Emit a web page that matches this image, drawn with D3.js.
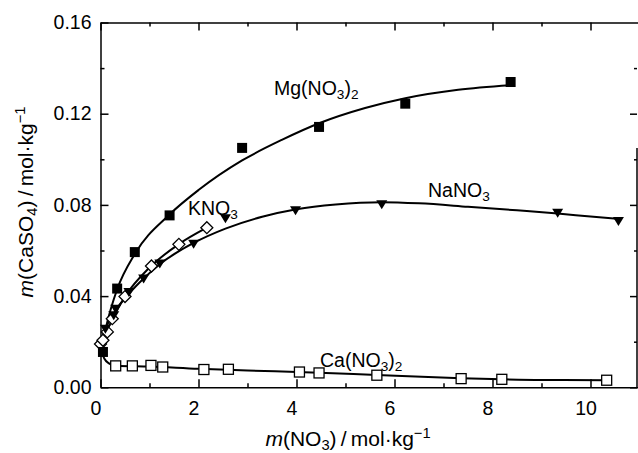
<!DOCTYPE html>
<html><head><meta charset="utf-8">
<script src="https://cdn.jsdelivr.net/npm/d3@7"></script>
<style>body{margin:0;background:#fff}svg{display:block;font-family:"Liberation Sans",Arial,sans-serif}</style>
</head><body><svg id="c" width="638" height="453"></svg>
<script>
// ---- data ----
const xMajor = [0, 2, 4, 6, 8, 10];
const xMinor = [1, 3, 5, 7, 9];
const yMajor = [0, 0.04, 0.08, 0.12, 0.16];
const yMinor = [0.02, 0.06, 0.10, 0.14];

const mgPts = [[0.05,0.0155],[0.34,0.0433],[0.70,0.0593],[1.41,0.0754],[2.89,0.105],[4.46,0.1142],[6.22,0.1244],[8.37,0.1339]];
const mgFit = [[0.03,0.018],[0.12,0.027],[0.34,0.043],[0.7,0.0585],[1.41,0.0758],[2.0,0.0865],[2.89,0.0995],[3.7,0.1085],[4.46,0.1158],[5.4,0.1225],[6.22,0.1268],[7.3,0.1305],[8.37,0.1325]];

const naPts = [[0.10,0.0257],[0.27,0.0316],[0.31,0.0345],[0.58,0.0418],[0.88,0.0477],[1.21,0.0543],[1.90,0.063],[2.55,0.0741],[3.98,0.0776],[5.74,0.0803],[9.33,0.0766],[10.57,0.0729]];
const naFit = [[0.03,0.021],[0.10,0.0255],[0.3,0.0335],[0.58,0.041],[0.88,0.0477],[1.21,0.054],[1.9,0.0633],[2.55,0.0696],[3.3,0.0748],[4.0,0.0781],[4.8,0.0802],[5.74,0.0812],[6.5,0.0807],[7.5,0.0792],[8.5,0.0776],[9.33,0.0762],[10.0,0.0749],[10.6,0.0738]];

const kPts = [[0.0,0.019],[0.05,0.0206],[0.14,0.0243],[0.24,0.0301],[0.50,0.0398],[1.04,0.0532],[1.60,0.0627],[2.17,0.0700]];
const kFit = [[0.0,0.019],[0.1,0.0235],[0.25,0.0302],[0.5,0.0398],[1.0,0.0525],[1.6,0.0628],[2.17,0.0700]];

const caPts = [[0.31,0.0094],[0.65,0.0094],[1.03,0.0096],[1.27,0.0089],[2.11,0.0078],[2.61,0.0079],[4.06,0.0067],[4.46,0.0063],[5.64,0.0053],[7.36,0.0038],[8.19,0.0035],[10.33,0.0031]];
const caFit = [[0.03,0.0155],[0.08,0.0125],[0.18,0.0104],[0.31,0.0095],[1.0,0.0091],[2.0,0.0081],[3.0,0.0074],[4.46,0.0064],[5.64,0.0054],[7.36,0.004],[8.19,0.0035],[9.0,0.0032],[10.33,0.0031]];

// ---- chart ----
const svg = d3.select("#c");
const x = d3.scaleLinear().domain([0, 11]).range([100.5, 639.5]);
const y = d3.scaleLinear().domain([0, 0.16]).range([387.3, 22.5]);
const fs = 19.5;
const ft = 21;
const fmtY = d3.format(".2f");

function axisStyle(g){
  g.selectAll("path.domain").attr("stroke","#000").attr("stroke-width",1.5);
  g.selectAll(".tick line").attr("stroke","#000").attr("stroke-width",1.5);
  g.selectAll("text").attr("font-size",fs).attr("fill","#000").attr("font-family","'Liberation Sans',Arial,sans-serif");
}
// bottom
const gb = svg.append("g").attr("transform",`translate(0,${y(0)})`)
  .call(d3.axisBottom(x).tickValues(xMajor).tickSizeInner(-8).tickSizeOuter(0).tickPadding(14).tickFormat(d3.format("d")));
axisStyle(gb); gb.selectAll("text").attr("dx",-5);
svg.append("g").attr("transform",`translate(0,${y(0)})`)
  .call(d3.axisBottom(x).tickValues(xMinor).tickSizeInner(-4).tickSizeOuter(0).tickFormat(""))
  .call(g=>{axisStyle(g); g.select("path.domain").remove();});
// top
svg.append("g").attr("transform",`translate(0,${y(0.16)})`)
  .call(d3.axisTop(x).tickValues(xMajor).tickSizeInner(-8).tickSizeOuter(0).tickFormat(""))
  .call(axisStyle);
svg.append("g").attr("transform",`translate(0,${y(0.16)})`)
  .call(d3.axisTop(x).tickValues(xMinor).tickSizeInner(-4).tickSizeOuter(0).tickFormat(""))
  .call(g=>{axisStyle(g); g.select("path.domain").remove();});
// left
const gl = svg.append("g").attr("transform",`translate(${x(0)},0)`)
  .call(d3.axisLeft(y).tickValues(yMajor).tickSizeInner(-8).tickSizeOuter(0).tickPadding(9).tickFormat(fmtY));
axisStyle(gl);
svg.append("g").attr("transform",`translate(${x(0)},0)`)
  .call(d3.axisLeft(y).tickValues(yMinor).tickSizeInner(-4).tickSizeOuter(0).tickFormat(""))
  .call(g=>{axisStyle(g); g.select("path.domain").remove();});
// right (partially drawn frame as in source)
const xr = 637;
svg.append("g").attr("transform",`translate(${xr},0)`)
  .call(d3.axisRight(y).tickValues(yMajor.slice(0,4)).tickSizeInner(-7).tickSizeOuter(0).tickFormat(""))
  .call(g=>{axisStyle(g); g.select("path.domain").remove();});
svg.append("g").attr("transform",`translate(${xr},0)`)
  .call(d3.axisRight(y).tickValues(yMinor).tickSizeInner(-3).tickSizeOuter(0).tickFormat(""))
  .call(g=>{axisStyle(g); g.select("path.domain").remove();});
svg.append("line").attr("x1",xr).attr("x2",xr).attr("y1",148).attr("y2",y(0))
  .attr("stroke","#000").attr("stroke-width",1.5);

// curves
const line = d3.line().x(d=>x(d[0])).y(d=>y(d[1])).curve(d3.curveMonotoneX);
const plot = svg.append("g");
[mgFit, naFit, kFit, caFit].forEach(f=>{
  plot.append("path").attr("d",line(f)).attr("fill","none").attr("stroke","#000").attr("stroke-width",2);
});

// markers
const s = 10;
plot.selectAll(".ca").data(caPts).join("rect")
  .attr("x",d=>x(d[0])-s/2).attr("y",d=>y(d[1])-s/2).attr("width",s).attr("height",s)
  .attr("fill","#fff").attr("stroke","#000").attr("stroke-width",1.3);
plot.selectAll(".kn").data(kPts).join("path")
  .attr("d",d=>`M${x(d[0])},${y(d[1])-6}L${x(d[0])+6},${y(d[1])}L${x(d[0])},${y(d[1])+6}L${x(d[0])-6},${y(d[1])}Z`)
  .attr("fill","#fff").attr("stroke","#000").attr("stroke-width",1.3);
plot.selectAll(".na").data(naPts).join("path")
  .attr("d",d=>`M${x(d[0])-5.5},${y(d[1])-4}L${x(d[0])+5.5},${y(d[1])-4}L${x(d[0])},${y(d[1])+5}Z`)
  .attr("fill","#000");
plot.selectAll(".mg").data(mgPts).join("rect")
  .attr("x",d=>x(d[0])-s/2).attr("y",d=>y(d[1])-s/2).attr("width",s).attr("height",s)
  .attr("fill","#000");

// series labels
function chem(xp, yp, parts){
  const t = svg.append("text").attr("x",xp).attr("y",yp).attr("font-size",fs).attr("fill","#000");
  parts.forEach(p=>{
    const ts = t.append("tspan").text(p[0]);
    if (p[1]==="sub") ts.attr("font-size",fs*0.7).attr("dy",4);
    else if (p[1]==="back") ts.attr("dy",-4);
  });
  return t;
}
chem(274, 95, [["Mg(NO"],["3","sub"],[")","back"],["2","sub"]]);
chem(428, 197, [["NaNO"],["3","sub"]]);
chem(188, 215, [["KNO"],["3","sub"]]);
chem(320, 367, [["Ca(NO"],["3","sub"],[")","back"],["2","sub"]]);

// axis titles
function title(t){
  t.append("tspan").attr("font-style","italic").text("m");
  return t;
}
const xt = svg.append("text").attr("x",348).attr("y",446).attr("text-anchor","middle").attr("font-size",ft).attr("fill","#000");
xt.append("tspan").attr("font-style","italic").text("m");
xt.append("tspan").text("(NO");
xt.append("tspan").attr("font-size",ft*0.7).attr("dy",4).text("3");
xt.append("tspan").attr("dy",-4).text(")\u2009/\u2009mol·kg");
xt.append("tspan").attr("font-size",ft*0.7).attr("dy",-8).text("\u22121");

const yt = svg.append("text").attr("transform","translate(33,202) rotate(-90)")
  .attr("text-anchor","middle").attr("font-size",ft).attr("fill","#000");
yt.append("tspan").attr("font-style","italic").text("m");
yt.append("tspan").text("(CaSO");
yt.append("tspan").attr("font-size",ft*0.7).attr("dy",4).text("4");
yt.append("tspan").attr("dy",-4).text(")\u2009/\u2009mol·kg");
yt.append("tspan").attr("font-size",ft*0.7).attr("dy",-8).text("\u22121");
</script></body></html>
